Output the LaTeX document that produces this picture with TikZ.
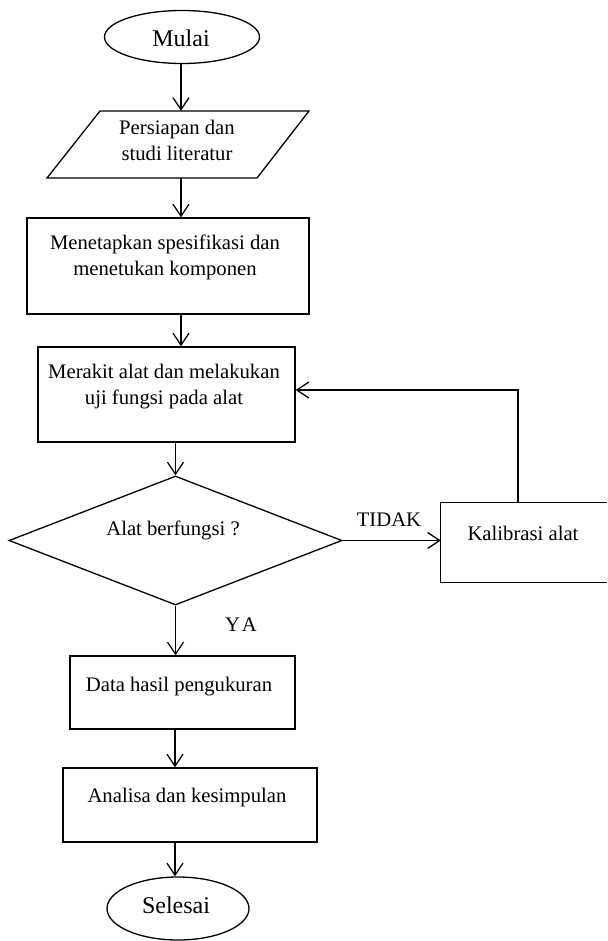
\documentclass[tikz,border=0pt]{standalone}
\usepackage{fontspec}
\setmainfont{Liberation Serif}
\usetikzlibrary{shapes.geometric,arrows.meta}
\begin{document}
\begin{tikzpicture}[x=1pt,y=-1pt,
  line/.style={line width=1.3pt},
  arr/.style={line width=1.3pt, -{Straight Barb[length=12pt,width=16pt]}},
  txt/.style={font=\fontsize{20.7}{26.5}\selectfont, align=center, inner sep=0pt},
  bigtxt/.style={font=\fontsize{24}{28}\selectfont, align=center, inner sep=0pt},
  term/.style={draw, line width=1.3pt, ellipse, inner sep=0pt},
  proc/.style={draw, line width=1.3pt, rectangle, inner sep=0pt},
  ghost/.style={inner sep=0pt}]
\useasboundingbox (0,0) rectangle (607,941);
% start
\node[term, minimum width=155, minimum height=53] (m) at (182,37) {};
\node[bigtxt] (mt) at (181,38) {Mulai};
% parallelogram
\node[ghost, minimum width=209, minimum height=67] (p) at (178,144.5) {};
\draw[line] (100,111) -- (309,111) -- (257,178) -- (47,178) -- cycle;
\node[txt] (pt) at (177,140.5) {Persiapan dan\\studi literatur};
% boxes
\node[proc, minimum width=282, minimum height=96] (r2) at (168,266) {};
\node[txt] (r2t) at (165,257.5) {Menetapkan spesifikasi dan\\menetukan komponen};
\node[proc, minimum width=257, minimum height=95] (r3) at (166.5,394.5) {};
\node[txt] (r3t) at (164,386.5) {Merakit alat dan melakukan\\uji fungsi pada alat};
\node[draw, line width=1.3pt, diamond, inner sep=0pt, minimum width=333, minimum height=129] (d) at (175.5,540.5) {};
\node[txt] (dt) at (173,530) {Alat berfungsi ?};
\node[ghost, minimum width=166, minimum height=79] (k) at (524,542.5) {};
\draw[line] (k.north east) -- (k.north west) -- (k.south west) -- (k.south east);
\node[txt] (kt) at (523,533) {Kalibrasi alat};
\node[proc, minimum width=225, minimum height=73] (r4) at (182.5,692.5) {};
\node[txt] (r4t) at (179,687) {Data hasil pengukuran};
\node[proc, minimum width=254, minimum height=74] (r5) at (190,805) {};
\node[txt] (r5t) at (187,798) {Analisa dan kesimpulan};
\node[term, minimum width=142, minimum height=63] (s) at (178,908.5) {};
\node[bigtxt] (st) at (176,905) {Selesai};
% connectors
\coordinate (ax1) at (181,0);
\coordinate (ax2) at (175,0);
\coordinate (fb) at (518,390);
\draw[arr] (m.south -| ax1) -- (p.north -| ax1);
\draw[arr] (p.south -| ax1) -- (r2.north -| ax1);
\draw[arr] (r2.south -| ax1) -- (r3.north -| ax1);
\draw[arr] (r3.south -| d.north) -- (d.north);
\draw[arr] (d.east) -- (d.east -| k.west);
\draw[arr] (d.south) -- (d.south |- r4.north);
\draw[arr] (r4.south -| ax2) -- (r5.north -| ax2);
\draw[arr] (r5.south -| ax2) -- (s.north -| ax2);
\draw[arr] (k.north -| fb) -- (fb) -- (fb -| r3.east);
% labels
\node[txt] (tidak) at (389,520) {TIDAK};
\node[txt] (ya) at (241,625) {Y\hspace{2pt}A};
\end{tikzpicture}
\end{document}
